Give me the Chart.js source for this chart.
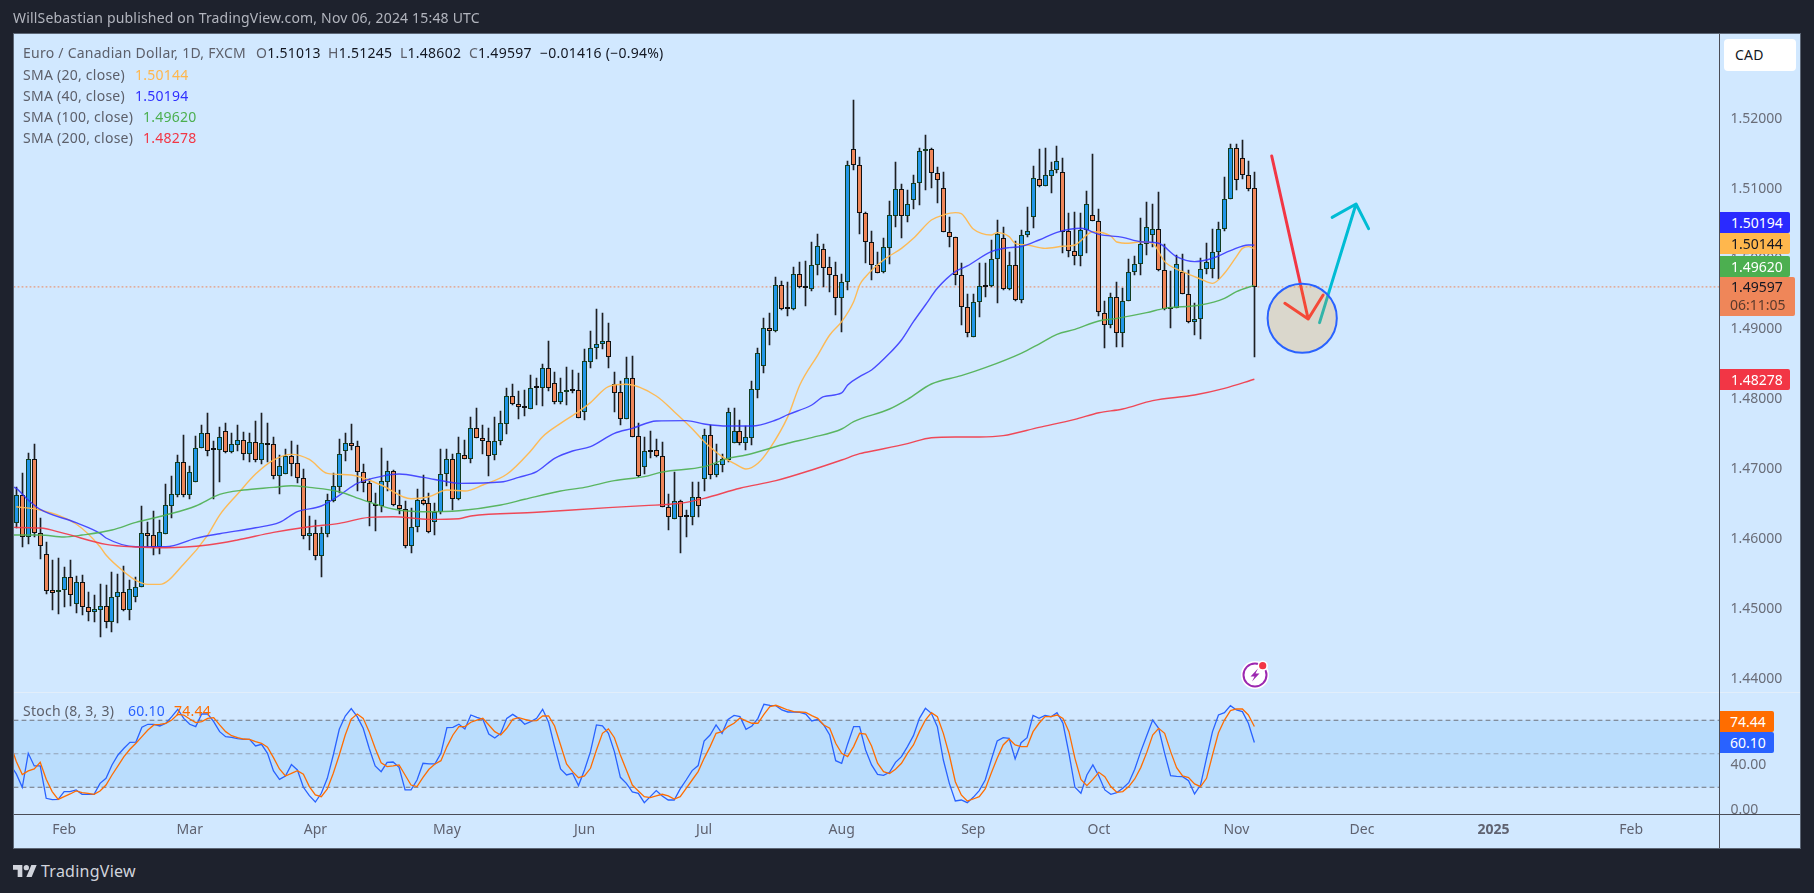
<!DOCTYPE html>
<html><head><meta charset="utf-8">
<script src="https://cdn.jsdelivr.net/npm/chart.js@4/dist/chart.umd.min.js"></script>
<style>
html,body{margin:0;padding:0;background:#1E222D;width:1814px;height:893px;overflow:hidden;font-family:"Noto Sans",sans-serif;font-size:14px}
#frame{position:absolute;left:13px;top:33px;width:1788px;height:816px;box-sizing:border-box;background:#D1E8FF;border:1px solid #5C6675}
canvas{position:absolute;left:0}
.ln{position:absolute;background:#4a4d57}
.t{position:absolute;white-space:nowrap;line-height:20px;color:#5d606b;letter-spacing:.25px}
.b{color:#131722}
.tag{position:absolute;left:1720px;width:70px;text-align:left;box-sizing:border-box;padding-left:11px;line-height:21px;height:21px;border-radius:0 2px 2px 0;font-size:14px}
</style></head><body>
<div id="frame"></div>
<canvas id="priceCanvas" width="1814" height="692" style="top:0"></canvas>
<canvas id="stochCanvas" width="1814" height="156" style="top:692px"></canvas>
<div class="ln" style="left:14px;top:692px;width:1786px;height:1px;background:#E2EEFA"></div>
<div class="ln" style="left:1719px;top:34px;width:1px;height:814px"></div>
<div class="ln" style="left:14px;top:814px;width:1786px;height:1px"></div>

<div class="t" style="left:13px;top:8px;color:#B2B5BE;letter-spacing:.18px">WillSebastian published on TradingView.com, Nov 06, 2024 15:48 UTC</div>
<div class="t" style="left:23px;top:43px">Euro / Canadian Dollar, 1D, FXCM</div>
<div class="t" style="left:256px;top:43px">O<span class="b">1.51013</span></div>
<div class="t" style="left:328px;top:43px">H<span class="b">1.51245</span></div>
<div class="t" style="left:400px;top:43px">L<span class="b">1.48602</span></div>
<div class="t" style="left:469px;top:43px">C<span class="b">1.49597</span></div>
<div class="t b" style="left:540px;top:43px">−0.01416 (−0.94%)</div>
<div class="t" style="left:23px;top:65px">SMA (20, close)<span style="position:absolute;left:112px;color:#FFB74D">1.50144</span></div>
<div class="t" style="left:23px;top:86px">SMA (40, close)<span style="position:absolute;left:112px;color:#3030FF">1.50194</span></div>
<div class="t" style="left:23px;top:107px">SMA (100, close)<span style="position:absolute;left:120px;color:#4CAF50">1.49620</span></div>
<div class="t" style="left:23px;top:128px">SMA (200, close)<span style="position:absolute;left:120px;color:#F23645">1.48278</span></div>
<div class="t" style="left:23px;top:701px">Stoch (8, 3, 3)<span style="position:absolute;left:105px;color:#2962FF">60.10</span><span style="position:absolute;left:151px;color:#FF6D00">74.44</span></div>

<div style="position:absolute;left:1724px;top:39px;width:72px;height:32px;background:#fff;border-radius:4px"></div>
<div class="t b" style="left:1735px;top:45px">CAD</div>

<div class="tag" style="top:212px;background:#2A2AFF;color:#fff">1.50194</div>
<div class="tag" style="top:233px;background:#FFB74D;color:#131722">1.50144</div>
<div class="tag" style="top:256px;background:#4CAF50;color:#fff">1.49620</div>
<div class="tag" style="top:277px;width:75px;height:39px;background:#EF8659;color:#131722;line-height:20px">1.49597<br><span style="color:#5a3a2c;position:relative;top:-2px;left:-1px">06:11:05</span></div>
<div class="tag" style="top:369px;background:#F23645;color:#fff">1.48278</div>
<div class="tag" style="top:711px;width:54px;padding-left:10px;background:#FF6D00;color:#fff">74.44</div>
<div class="tag" style="top:732px;width:54px;padding-left:10px;background:#2962FF;color:#fff">60.10</div>

<svg style="position:absolute;left:1238px;top:658px" width="36" height="34" viewBox="0 0 36 34">
<circle cx="17" cy="17" r="14" fill="#fff"/><circle cx="17" cy="17" r="11.5" fill="#fff" stroke="#9C27B0" stroke-width="2"/>
<path d="M20 10.5L12.5 18.5H16.5L14 23.5L21.5 15.5H17.5Z" fill="#9C27B0"/>
<circle cx="24.7" cy="7.7" r="5.2" fill="#fff"/><circle cx="24.7" cy="7.7" r="3.6" fill="#F23645"/></svg>

<svg style="position:absolute;left:13px;top:865px" width="24" height="12" viewBox="0 4 36 18" preserveAspectRatio="none"><path fill="#D1D4DC" d="M14 22H7V11H0V4h14v18zM28 22h-8l7.5-18h8L28 22z"/><circle fill="#D1D4DC" cx="20" cy="8" r="4"/></svg>
<div class="t" style="left:41px;top:861px;font-size:16px;color:#D1D4DC">TradingView</div>

<script>
const opens=[1.46229,1.46619,1.46029,1.47133,1.46086,1.45776,1.45262,1.45233,1.45262,1.45457,1.45071,1.45376,1.45029,1.44957,1.44986,1.45043,1.44814,1.45171,1.45233,1.44986,1.45171,1.45305,1.46076,1.46048,1.45886,1.46071,1.46471,1.46629,1.47090,1.46629,1.46814,1.47290,1.47505,1.47276,1.47271,1.47533,1.47243,1.47343,1.47405,1.47214,1.47376,1.47129,1.47362,1.47348,1.46900,1.46929,1.47176,1.47076,1.46871,1.46043,1.46076,1.45757,1.46071,1.46543,1.46743,1.47257,1.47362,1.47319,1.46948,1.46790,1.46476,1.46462,1.46814,1.46962,1.46476,1.46419,1.45900,1.46162,1.46548,1.46505,1.46243,1.46386,
1.46920,1.47134,1.46572,1.47191,1.47144,1.47577,1.47444,1.47401,1.47201,1.47401,1.47644,1.48034,1.47929,1.47882,1.47858,1.48167,1.48158,1.48434,1.48220,1.47958,1.48091,1.48120,1.48120,1.47815,1.48529,1.48720,1.48777,1.48820,1.48206,1.48091,1.47715,1.48291,1.47463,1.47029,1.47258,1.47263,1.47177,1.46448,1.46277,1.46534,1.46320,1.46315,1.46591,1.46848,1.47477,1.46915,1.47058,1.47125,1.47372,1.47534,1.47372,1.47444,1.48129,1.48472,1.49006,1.48972,1.49625,1.49296,1.49277,1.49777,
1.49596,1.49572,1.49905,1.50134,1.49877,1.49762,1.49434,1.49662,1.51563,1.51334,1.50648,1.50243,1.49905,1.49815,1.50158,1.50615,1.50991,1.50605,1.50834,1.51077,1.51534,1.51563,1.51229,1.51005,1.50386,1.50305,1.49762,1.49315,1.48877,1.49377,1.49605,1.49605,1.49991,1.50291,1.49562,1.49905,1.49415,1.50334,1.50591,1.51134,1.51043,1.51186,1.51262,1.51234,1.50391,1.50105,1.50034,1.50405,1.50629,1.50534,1.49229,1.49048,1.49448,1.48934,1.49391,1.49805,1.49920,1.50205,1.50334,1.50420,1.49834,1.49296,1.49291,1.49805,1.49491,1.49091,1.49134,1.49848,1.49848,1.50091,1.50420,1.50848,1.51577,1.51434,1.51191,1.51013];
const highs=[1.46733,1.46933,1.47229,1.47352,1.46290,1.45948,1.45695,1.45719,1.45600,1.45695,1.45467,1.45481,1.45238,1.45195,1.45352,1.45338,1.45519,1.45495,1.45610,1.45410,1.45457,1.46467,1.46238,1.46395,1.46267,1.46781,1.46895,1.47191,1.47481,1.47038,1.47467,1.47624,1.47790,1.47395,1.47600,1.47648,1.47505,1.47624,1.47519,1.47505,1.47676,1.47790,1.47648,1.47448,1.47195,1.47276,1.47390,1.47338,1.46990,1.46324,1.46267,1.46171,1.46638,1.46933,1.47419,1.47514,1.47638,1.47390,1.47067,1.46848,1.46657,1.47290,1.47110,1.46981,1.46695,1.46538,1.46433,1.46705,1.46905,1.46648,1.46505,1.47276,
1.47282,1.47210,1.47448,1.47410,1.47739,1.47868,1.47625,1.47582,1.47739,1.47825,1.48153,1.48210,1.48110,1.48125,1.48339,1.48301,1.48496,1.48825,1.48382,1.48291,1.48453,1.48410,1.48363,1.48710,1.48968,1.49282,1.49225,1.49082,1.48382,1.48253,1.48596,1.48610,1.47648,1.47458,1.47534,1.47425,1.47382,1.46639,1.46953,1.46553,1.46410,1.46810,1.46810,1.47563,1.47620,1.47353,1.47206,1.47868,1.47868,1.47696,1.47610,1.48248,1.48720,1.49148,1.49220,1.49734,1.49682,1.49663,1.49887,1.49958,
1.49967,1.50234,1.50353,1.50210,1.50024,1.49953,1.49782,1.51396,1.52267,1.51448,1.50667,1.50401,1.50096,1.50296,1.50824,1.51382,1.51067,1.50982,1.51196,1.51582,1.51767,1.51577,1.51305,1.51234,1.50596,1.50305,1.49934,1.49496,1.49496,1.49934,1.49934,1.50267,1.50553,1.50453,1.50096,1.50253,1.50410,1.50739,1.51324,1.51567,1.51577,1.51377,1.51610,1.51434,1.50648,1.50667,1.50648,1.50962,1.51496,1.50705,1.49391,1.49505,1.49667,1.49577,1.49991,1.50034,1.50581,1.50810,1.50782,1.50948,1.50210,1.49829,1.50053,1.50067,1.49839,1.49362,1.50006,1.50220,1.50420,1.50529,1.51168,1.51639,1.51639,1.51696,1.51391,1.51245];
const lows=[1.46148,1.45886,1.45924,1.46019,1.45710,1.45210,1.44981,1.44924,1.45029,1.45038,1.44933,1.44910,1.44829,1.44814,1.44600,1.44724,1.44667,1.44791,1.44971,1.44838,1.45095,1.45305,1.45886,1.45767,1.45781,1.46071,1.46300,1.46600,1.46590,1.46571,1.46814,1.47290,1.47186,1.46571,1.46810,1.47229,1.47229,1.47252,1.47124,1.47095,1.47095,1.47067,1.47090,1.46857,1.46638,1.46929,1.46895,1.46800,1.45995,1.45838,1.45695,1.45457,1.46029,1.46524,1.46657,1.47114,1.47267,1.46686,1.46667,1.46181,1.46114,1.46386,1.46686,1.46467,1.46352,1.45862,1.45800,1.46100,1.46481,1.46081,1.46052,1.46352,
1.46758,1.46410,1.46553,1.47144,1.47086,1.47444,1.47210,1.46901,1.47125,1.47344,1.47501,1.47906,1.47715,1.47753,1.47858,1.47910,1.47896,1.48115,1.47920,1.47920,1.47910,1.48077,1.47720,1.47696,1.48439,1.48572,1.48710,1.48439,1.47806,1.47625,1.47715,1.47458,1.46877,1.46925,1.47158,1.47172,1.46448,1.46125,1.46277,1.45801,1.46029,1.46196,1.46315,1.46687,1.46858,1.46877,1.46953,1.47096,1.47372,1.47344,1.47267,1.47344,1.48015,1.48372,1.48768,1.48958,1.49268,1.49187,1.49268,1.49577,
1.49324,1.49539,1.49767,1.49591,1.49529,1.49196,1.48958,1.49553,1.51267,1.50358,1.49934,1.49696,1.49791,1.49791,1.49924,1.50458,1.50296,1.50529,1.50715,1.50767,1.50982,1.51015,1.50801,1.50386,1.50172,1.49629,1.49053,1.48886,1.48877,1.49172,1.49458,1.49601,1.49363,1.49553,1.49553,1.49401,1.49372,1.50315,1.50443,1.51029,1.51043,1.50943,1.51220,1.50077,1.50029,1.49915,1.49901,1.50077,1.50534,1.49186,1.48729,1.49010,1.48734,1.48743,1.49391,1.49772,1.49772,1.50053,1.50172,1.49829,1.49267,1.49005,1.49291,1.49491,1.49086,1.48910,1.48858,1.49782,1.49720,1.49706,1.50401,1.50848,1.50982,1.51139,1.50972,1.48602];
const closes=[1.46619,1.46029,1.47133,1.46086,1.45900,1.45257,1.45229,1.45262,1.45457,1.45200,1.45376,1.45029,1.44957,1.44991,1.45043,1.44814,1.45171,1.45233,1.44986,1.45286,1.45305,1.46076,1.46043,1.45886,1.46090,1.46476,1.46633,1.47090,1.46629,1.46948,1.47290,1.47505,1.47257,1.47262,1.47448,1.47243,1.47348,1.47405,1.47214,1.47376,1.47129,1.47362,1.47343,1.46900,1.47033,1.47176,1.47071,1.46871,1.46043,1.46076,1.45757,1.46076,1.46548,1.46748,1.47205,1.47362,1.47319,1.46948,1.46790,1.46529,1.46462,1.46819,1.46962,1.46476,1.46419,1.45900,1.46162,1.46548,1.46500,1.46090,1.46386,1.46919,
1.47134,1.46572,1.47220,1.47144,1.47577,1.47444,1.47401,1.47187,1.47401,1.47648,1.48034,1.47929,1.47877,1.47868,1.48148,1.48158,1.48434,1.48158,1.47958,1.48091,1.48120,1.48110,1.47729,1.48534,1.48720,1.48777,1.48820,1.48601,1.48087,1.47715,1.48291,1.47458,1.46901,1.47248,1.47244,1.47177,1.46448,1.46315,1.46534,1.46306,1.46310,1.46591,1.46472,1.47477,1.46915,1.47063,1.47134,1.47806,1.47534,1.47372,1.47448,1.48134,1.48648,1.49006,1.48972,1.49625,1.49287,1.49287,1.49777,1.49591,
1.49586,1.49905,1.50177,1.49872,1.49762,1.49434,1.49662,1.51334,1.51334,1.50648,1.50243,1.49905,1.49801,1.50163,1.50620,1.50991,1.50605,1.50777,1.51077,1.51534,1.51563,1.51229,1.51120,1.50386,1.50305,1.49762,1.49315,1.48934,1.49377,1.49605,1.49596,1.49991,1.50348,1.49562,1.49905,1.49415,1.50334,1.50391,1.51148,1.51043,1.51191,1.51262,1.51396,1.50386,1.50105,1.50034,1.50405,1.50777,1.50534,1.49234,1.49048,1.49448,1.48934,1.49391,1.49805,1.49920,1.50205,1.50448,1.50420,1.49834,1.49286,1.49286,1.49920,1.49491,1.49091,1.49134,1.49848,1.49948,1.50091,1.50420,1.50848,1.51577,1.51120,1.51191,1.51001,1.49597];

const sma20Bars=[0,4,10,14,15,18,20,22,24,28,32,34,37,40,43,46,49,52,56,61,66,69,72,75,78,82,86,88,91,94,96,99,102,107,110,113,115,118,120,122,124,126,129,131,134,136,138,140,141,142,145,148,150,153,155,157,158,160,163,164,166,167,169,172,175,177,180,183,184,186,188,190,192,195,198,200,202,204,205,206,207];
const sma20Values=[1.46457,1.46410,1.46210,1.45886,1.45767,1.45529,1.45405,1.45348,1.45348,1.45638,1.46052,1.46338,1.46638,1.46924,1.47124,1.47205,1.47133,1.46933,1.46910,1.46767,1.46571,1.46600,1.46695,1.46682,1.46767,1.46920,1.47253,1.47458,1.47648,1.47815,1.47944,1.48172,1.48206,1.48039,1.47815,1.47572,1.47387,1.47172,1.47077,1.46996,1.47077,1.47291,1.47744,1.48196,1.48624,1.48910,1.49100,1.49386,1.49624,1.49743,1.49981,1.50148,1.50291,1.50553,1.50624,1.50658,1.50643,1.50424,1.50339,1.50372,1.50315,1.50220,1.50196,1.50148,1.50177,1.50196,1.50386,1.50324,1.50239,1.50220,1.50243,1.50220,1.49958,1.49815,1.49710,1.49648,1.49791,1.50029,1.50148,1.50172,1.50144];
const sma40Bars=[-1,0,2,4,10,14,15,20,25,30,34,40,44,47,51,54,57,61,64,68,72,74,81,84,87,90,93,96,100,103,107,112,115,119,123,127,129,133,135,138,139,141,143,146,148,150,152,154,157,159,163,166,168,171,174,178,181,185,188,191,194,197,200,203,206,207];
const sma40Values=[1.46757,1.46719,1.46552,1.46419,1.46229,1.46076,1.46010,1.45886,1.45886,1.46005,1.46071,1.46157,1.46233,1.46386,1.46467,1.46619,1.46790,1.46890,1.46924,1.46876,1.46814,1.46791,1.46810,1.46877,1.46958,1.47148,1.47253,1.47315,1.47506,1.47577,1.47682,1.47687,1.47639,1.47610,1.47610,1.47696,1.47772,1.47910,1.48029,1.48082,1.48196,1.48315,1.48410,1.48648,1.48839,1.49100,1.49339,1.49577,1.49815,1.49896,1.50101,1.50158,1.50172,1.50267,1.50377,1.50434,1.50348,1.50305,1.50243,1.50220,1.50029,1.49958,1.50006,1.50115,1.50196,1.50194];
const sma100Bars=[-1,4,8,11,16,20,25,30,34,38,43,46,49,54,58,63,68,74,81,85,91,95,100,105,108,115,119,122,129,133,138,140,146,149,153,158,162,168,171,174,177,181,184,189,192,198,202,204,207];
const sma100Values=[1.46052,1.46052,1.46024,1.46052,1.46124,1.46233,1.46338,1.46467,1.46633,1.46695,1.46733,1.46757,1.46733,1.46671,1.46552,1.46424,1.46386,1.46400,1.46482,1.46563,1.46682,1.46734,1.46829,1.46887,1.46953,1.47029,1.47148,1.47196,1.47363,1.47444,1.47567,1.47672,1.47853,1.47991,1.48210,1.48329,1.48443,1.48648,1.48781,1.48920,1.48991,1.49110,1.49148,1.49229,1.49291,1.49339,1.49434,1.49529,1.49620];
const sma200Bars=[-1,4,8,15,20,25,32,37,43,49,54,59,63,69,74,76,87,99,105,111,115,121,127,133,138,141,144,149,153,157,161,165,171,177,181,185,190,197,202,207];
const sma200Values=[1.46162,1.46152,1.46076,1.45919,1.45881,1.45871,1.45910,1.45981,1.46090,1.46171,1.46219,1.46305,1.46314,1.46276,1.46286,1.46325,1.46377,1.46444,1.46472,1.46506,1.46577,1.46720,1.46829,1.46982,1.47124,1.47215,1.47267,1.47358,1.47443,1.47453,1.47453,1.47472,1.47591,1.47705,1.47800,1.47853,1.47972,1.48053,1.48148,1.48278];

// one value per bar, the first one belongs to the bar just before the left edge
const stochK=[40,32,20,50.4,39.1,39.1,10.1,8.9,9.2,16.1,16.1,17.6,13.7,13.7,13.7,23.5,28,40,48.9,54.9,60.2,60.5,73.7,76.4,76.4,74.9,77.3,83.2,89.8,81.7,76.4,74.3,85.6,85.6,78.8,69.8,65.3,64.7,63.5,62.9,62.9,57,58.5,50.4,34.6,27.1,30.1,40.3,35.5,20,12.5,6.8,14.6,28,48.9,71.9,83.8,90.4,83.2,72.8,54.9,39.1,34,42.3,42.6,37.9,17.6,17.6,26.5,41.5,40.9,40.9,50.4,73.4,73.7,76.4,72.2,84.7,82.6,80.8,67.7,64.1,68.3,81.7,85.3,81.7,76.4,78.8,81.7,89.8,78.2,56.4,36.4,31,32.5,21.5,35.5,51.9,75.8,74.9,68.3,51.9,28.9,23.5,15.8,14.6,6.2,11.6,17,12.2,8.6,8.6,18.5,26.5,34.9,39.4,61.4,66.8,75.8,68.3,80.8,84.4,83.2,71.9,74.9,81.7,94.3,93.4,93.1,89.2,87.4,87.4,87.1,85.6,79.4,80.8,75.8,66.8,43.8,41.5,58.8,74.3,74.3,53.4,40,31.6,30.7,33.4,42.3,47.4,56.4,66.2,81.7,90.7,86.2,74.3,44.4,23.5,7.7,8.6,6.2,11,17,26.5,44.4,61.4,64.4,63.8,45.3,59.9,64.4,84.4,81.7,84.4,83.2,86.8,77.3,50.4,20,14.6,31,40,30.1,17.6,13.7,15.2,19.1,24.1,36.1,51.9,66.2,80.2,72.8,50.4,30.4,29.8,29.5,25.9,14,22,46,69.8,84.7,86.8,93.1,89.2,87.7,77.3,60.10];
const stochD=[59,43,31.3,34.6,36.4,42.3,27.1,16.1,9.2,11.6,14,16.7,15.2,14.6,13.7,16.7,22,31,39.1,47.4,54,59.4,65.3,71.3,75.8,76.4,77.3,80.2,85.3,84.7,81.1,77.9,78.8,81.7,82.3,75.8,69.8,66.2,64.4,63.2,62.9,60.8,59.4,55.8,46.5,36.4,30.1,32.5,34.9,31.6,20.6,13.1,11.6,18.5,32.5,48.9,66.8,81.1,85.6,81.7,69.8,54.9,42,38.5,39.1,40,31,22,20.6,28.9,36.1,40.9,43.8,56.4,66.8,74.3,74.3,78.2,80.2,81.7,75.8,69.8,66.8,72.8,80.8,82.3,80.8,79.4,79.6,83.8,83.8,74.9,57.9,40.9,34,28.6,30.1,37,53.4,68.3,72.2,64.4,48.9,35.5,22,16.7,11.6,10.7,12.2,13.7,12.2,9.5,11.6,19.1,26.5,34,45.9,56.4,68.3,69.8,74.3,77.3,82,79.4,77.3,77.3,85.3,92.2,93.4,91.3,89.2,87.7,87.4,87.1,84.1,81.7,75.8,72.8,59.4,50.4,47.4,56.4,68.3,67.7,57,41.5,34,32.2,36.1,41.5,50.4,57.9,69.8,80.2,86.8,83.2,68.3,48.9,25,13.1,7.7,9.5,11.6,18.5,32.5,45.9,57.9,63.2,57.9,56.4,56.4,69.8,77.3,83.2,83.2,84.7,81.7,69.8,45.9,27.1,21.5,27.1,33.4,29.5,20.6,15.5,16.1,20.6,27.4,37.6,51,66.8,72.8,68.3,51.9,37.6,30.1,28.6,23,20.6,28,48.9,68.8,80.2,88.6,90.1,90.1,84.7,74.44];

const priceTicks=[1.52,1.51,1.50,1.49,1.48,1.47,1.46,1.45,1.44];
const stochTicks=[40,0];
const stochLevels=[80,50,20];
const monthBars=[8,29,50,72,95,115,138,160,181,204,225,247,270];
const monthLabels=['Feb','Mar','Apr','May','Jun','Jul','Aug','Sep','Oct','Nov','Dec','2025','Feb'];
const lastPrice=1.49597;
// drawn trade idea, in bar / price units
const downArrowBars=[209.9,216,212.1,216,218.5];
const downArrowPrices=[1.51467,1.49139,1.49363,1.49139,1.49481];
const upArrowBars=[217.9,224,220,224,226.1];
const upArrowPrices=[1.49086,1.50781,1.50591,1.50781,1.50429];
const circleBar=[215];
const circlePrice=[1.49149];

const XMIN=-0.385, XMAX=284.77;
const zip=(xs,ys)=>xs.map((x,i)=>({x,y:ys[i]}));
const UP='#2196E8',DOWN='#EF8659';
const wicks=opens.map((_,i)=>({x:i,y:[lows[i],highs[i]]}));
const bodies=opens.map((o,i)=>({x:i,y:[Math.min(o,closes[i]),Math.max(o,closes[i])]}));
const sma=(label,xs,ys,color,order)=>({type:'line',label,data:zip(xs,ys),borderColor:color,borderWidth:1.4,pointRadius:0,cubicInterpolationMode:'monotone',order});
const stroke=(label,data,color,width,order,dash)=>({type:'line',label,data,borderColor:color,borderWidth:width,pointRadius:0,tension:0,order,borderDash:dash||[],borderCapStyle:'round',borderJoinStyle:'round'});

// snaps candles to the pixel grid so their edges stay sharp
const crispCandles={id:'crispCandles',beforeDatasetsDraw(chart){
  [0,1].forEach(idx=>{chart.getDatasetMeta(idx).data.forEach(el=>{
    el.x=Math.floor(el.x)+0.5;
    let top=Math.round(Math.min(el.y,el.base)),bot=Math.round(Math.max(el.y,el.base));
    if(bot-top<2&&idx===1)bot=top+2;
    el.y=top;el.base=bot;el.height=bot-top;
  });});
}};
const noScalePadding=s=>{s.width=81;s.paddingTop=0;s.paddingBottom=0};

Chart.defaults.font.family='"Noto Sans",sans-serif';
const common={responsive:false,animation:false,devicePixelRatio:1,events:[],plugins:{legend:{display:false},tooltip:{enabled:false},title:{display:false}}};

new Chart(document.getElementById('priceCanvas'),{
 type:'bar',
 plugins:[crispCandles],
 data:{datasets:[
  {label:'wicks',data:wicks,grouped:false,barThickness:1,backgroundColor:'#1d2024',borderWidth:0,order:20},
  {label:'bodies',data:bodies,grouped:false,barThickness:5,minBarLength:2,inflateAmount:0,borderSkipped:false,borderWidth:1,
   backgroundColor:opens.map((o,i)=>closes[i]>=o?UP:DOWN),
   borderColor:opens.map((o,i)=>closes[i]>=o?'#123d20':'#111'),order:19},
  stroke('last price',[{x:XMIN,y:lastPrice},{x:XMAX,y:lastPrice}],'#EF8659',1,25,[1,3]),
  sma('SMA 20',sma20Bars,sma20Values,'rgba(255,183,77,.95)',18),
  sma('SMA 40',sma40Bars,sma40Values,'rgba(48,48,255,.85)',17),
  sma('SMA 100',sma100Bars,sma100Values,'rgba(76,175,80,.9)',16),
  sma('SMA 200',sma200Bars,sma200Values,'rgba(242,54,69,.9)',15),
  stroke('down arrow',zip(downArrowBars,downArrowPrices),'#F23645',3,5),
  stroke('up arrow',zip(upArrowBars,upArrowPrices),'#00BCD4',3,4),
  {type:'line',label:'circle',data:zip(circleBar,circlePrice),showLine:false,pointRadius:34.6,pointStyle:'circle',
   pointBackgroundColor:'rgba(255,152,0,.2)',pointBorderColor:'#2962FF',pointBorderWidth:2,order:1}
 ]},
 options:{...common,
  layout:{autoPadding:false,padding:{left:14,right:13.5,top:34,bottom:0}},
  scales:{
   x:{type:'linear',display:false,min:XMIN,max:XMAX,offset:false},
   y:{type:'linear',position:'right',min:1.4381,max:1.5321,
      grid:{display:false,drawTicks:false},border:{display:false},
      afterBuildTicks:s=>{s.ticks=priceTicks.map(v=>({value:v}))},
      afterFit:noScalePadding,
      ticks:{padding:11,color:'#6A6D78',font:{size:14},callback:v=>Number(v).toFixed(5)}}
  }}
});

new Chart(document.getElementById('stochCanvas'),{
 type:'line',
 data:{datasets:[
  stroke('80',[{x:XMIN,y:stochLevels[0]},{x:XMAX,y:stochLevels[0]}],'#6f737e',1,8,[4,4]),
  stroke('50',[{x:XMIN,y:stochLevels[1]},{x:XMAX,y:stochLevels[1]}],'rgba(120,123,134,.6)',1,7,[4,4]),
  stroke('20',[{x:XMIN,y:stochLevels[2]},{x:XMAX,y:stochLevels[2]}],'#6f737e',1,6,[4,4]),
  {type:'line',label:'band',data:[{x:XMIN,y:stochLevels[0]},{x:XMAX,y:stochLevels[0]}],borderWidth:0,pointRadius:0,fill:{value:stochLevels[2]},backgroundColor:'rgba(33,150,243,.13)',order:9},
  {type:'line',label:'%K',data:stochK.map((y,i)=>({x:i-1,y})),borderColor:'#2962FF',borderWidth:1.3,pointRadius:0,tension:0,order:3},
  {type:'line',label:'%D',data:stochD.map((y,i)=>({x:i-1,y})),borderColor:'#FF6D00',borderWidth:1.3,pointRadius:0,tension:0,order:2}
 ]},
 options:{...common,
  layout:{autoPadding:false,padding:{left:14,right:13.5,top:0,bottom:0}},
  scales:{
   x:{type:'linear',min:XMIN,max:XMAX,offset:false,position:'bottom',
      grid:{display:false,drawTicks:false},border:{display:false},
      afterBuildTicks:s=>{s.ticks=monthBars.map(v=>({value:v}))},
      afterFit:s=>{s.height=34},
      ticks:{autoSkip:false,maxRotation:0,padding:8,color:'#5f6270',
        font:c=>({size:14,weight:monthLabels[monthBars.indexOf(c.tick&&c.tick.value)]==='2025'?'bold':'normal'}),
        callback:v=>monthLabels[monthBars.indexOf(v)]}},
   y:{type:'linear',position:'right',min:-3.94,max:105.3,
      grid:{display:false,drawTicks:false},border:{display:false},
      afterBuildTicks:s=>{s.ticks=stochTicks.map(v=>({value:v}))},
      afterFit:noScalePadding,
      ticks:{padding:11,color:'#6A6D78',font:{size:14},callback:v=>Number(v).toFixed(2)}}
  }}
});
</script>
</body></html>
